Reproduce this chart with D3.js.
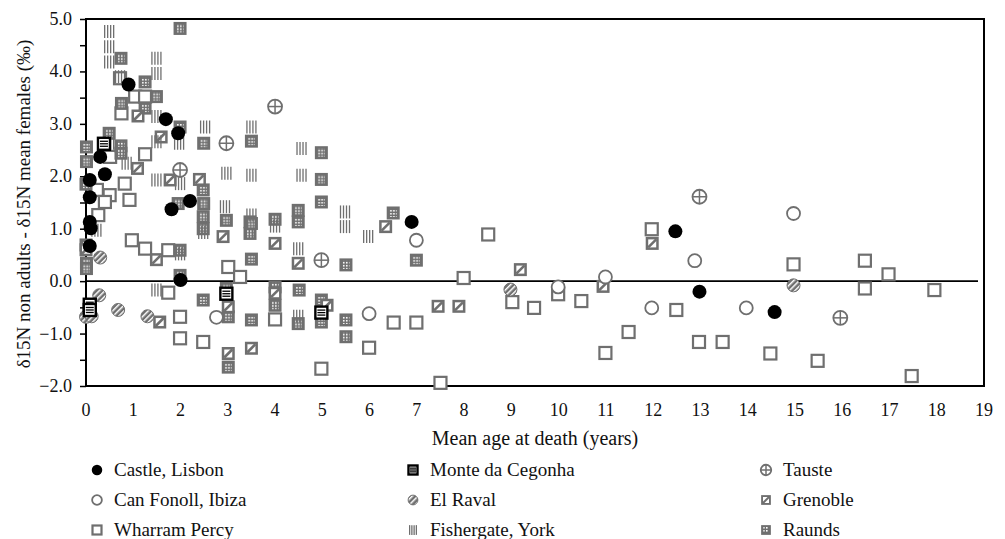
<!DOCTYPE html>
<html>
<head>
<meta charset="utf-8">
<script src="https://cdn.jsdelivr.net/npm/d3@7"></script>
<style>
  body { margin: 0; background: #fff; }
</style>
</head>
<body>
<div id="chart"></div>
<script>
// values: [mean age, delta]
const castleLisbon = [[0.08,0.67],[0.1,1.01],[0.08,1.13],[0.08,1.6],[0.08,1.93],[0.3,2.37],[0.4,2.04],
  [0.9,3.75],[1.69,3.09],[1.95,2.82],[1.81,1.37],[2.2,1.53],[2.0,0.02],[6.89,1.13],[12.47,0.95],[12.98,-0.2],[14.57,-0.59]];
const canFonoll = [[2.76,-0.69],[5.99,-0.62],[6.99,0.78],[9.99,-0.11],[10.99,0.08],[11.97,-0.51],[12.88,0.39],[13.97,-0.51],[14.97,1.29]];
const wharramPercy = [[0.72,3.87],[1.04,3.52],[1.25,3.52],[0.75,3.2],[0.51,2.37],[1.25,2.42],[0.82,1.86],[0.23,1.74],
  [0.5,1.64],[0.92,1.55],[0.4,1.51],[0.26,1.26],[0.97,0.78],[1.25,0.62],[1.74,0.59],[3.01,0.27],[3.26,0.08],[1.74,-0.22],
  [1.99,-0.68],[1.99,-1.09],[2.48,-1.16],[4.0,-0.73],[6.51,-0.79],[6.99,-0.79],[5.99,-1.27],[4.98,-1.67],[7.5,-1.94],
  [8.51,0.89],[7.99,0.06],[9.02,-0.4],[9.48,-0.51],[9.99,-0.25],[10.48,-0.38],[11.48,-0.97],[10.99,-1.37],[11.97,0.99],
  [12.97,-1.16],[13.47,-1.16],[12.49,-0.55],[14.48,-1.38],[15.48,-1.52],[14.97,0.32],[16.48,0.39],[16.48,-0.14],
  [16.98,0.13],[17.95,-0.17],[17.47,-1.81]];
const monteCegonha = [[0.08,-0.45],[0.08,-0.55],[0.38,2.62],[2.97,-0.24],[4.98,-0.6]];
const elRaval = [[0.3,0.45],[0.28,-0.27],[0.0,-0.68],[0.12,-0.67],[0.68,-0.55],[1.3,-0.67],[8.98,-0.16],[14.97,-0.08]];
const fishergate = [[0.49,4.76],[0.49,4.47],[0.49,4.18],[1.49,4.25],[1.49,3.96],[0.72,3.9],[1.49,3.14],[1.49,2.66],
  [1.97,2.63],[2.52,2.94],[3.5,2.94],[0.49,2.63],[0.86,2.25],[1.49,1.93],[2.97,2.06],[3.5,2.02],[1.99,1.86],[4.56,2.53],
  [4.56,2.02],[2.94,1.42],[3.5,1.26],[4.0,1.05],[4.49,0.62],[5.48,1.32],[5.48,1.04],[5.97,0.85],[0.22,0.97],[1.99,0.52],
  [2.48,0.93],[1.49,-0.17],[4.49,-0.67]];
const tauste = [[1.99,2.12],[2.97,2.63],[4.0,3.33],[4.98,0.4],[12.98,1.61],[15.96,-0.7]];
const grenoble = [[1.1,3.15],[1.59,2.75],[1.09,2.15],[1.78,1.93],[2.4,1.94],[1.49,0.41],[2.9,0.85],[1.56,-0.78],
  [3.01,-0.49],[3.01,-1.38],[3.5,-1.28],[4.0,0.72],[4.49,0.34],[6.34,1.04],[4.0,-0.23],[5.1,-0.46],[7.45,-0.48],
  [7.89,-0.48],[9.19,0.22],[10.94,-0.1],[11.98,0.72],[0.0,0.6]];
const raunds = [[0.74,4.25],[1.99,4.82],[1.25,3.8],[1.49,3.52],[0.75,3.39],[1.25,3.3],[1.99,2.94],[2.49,2.63],[3.5,2.67],
  [0.49,2.82],[0.01,2.56],[0.01,2.28],[0.74,2.58],[0.74,2.44],[2.48,1.74],[1.95,1.48],[2.49,1.48],[0.0,1.85],[2.48,1.23],
  [2.48,1.0],[1.99,0.59],[0.0,0.69],[0.01,0.34],[0.01,0.24],[2.97,1.16],[3.47,1.13],[3.47,0.91],[3.5,0.42],[1.99,0.11],
  [2.48,-0.36],[2.97,-0.14],[3.01,-0.68],[3.01,-1.64],[3.5,-0.74],[4.98,2.45],[4.98,1.94],[4.98,1.51],[3.5,1.1],
  [4.0,1.18],[4.49,1.35],[4.49,1.13],[5.5,0.31],[6.5,1.3],[6.99,0.4],[4.0,-0.11],[4.0,-0.46],[4.51,-0.17],[4.49,-0.81],
  [4.98,-0.36],[4.98,-0.78],[5.5,-0.74],[5.5,-1.06]];

const seriesNames = ["Castle, Lisbon","Monte da Cegonha","Tauste","Can Fonoll, Ibiza","El Raval","Grenoble",
  "Wharram Percy","Fishergate, York","Raunds"];
const xTicks = d3.range(0, 20, 1);
const yTicks = d3.range(-2, 5.01, 1);

const width = 1005, height = 539;
const grey = "#6f6f6f";

const svg = d3.select("#chart").append("svg")
    .attr("width", width)
    .attr("height", height)
    .attr("font-family", "'Liberation Serif', 'DejaVu Serif', serif")
    .attr("fill", "#111");

const defs = svg.append("defs");
// white dot pattern for Raunds
const dots = defs.append("pattern").attr("id", "dots")
    .attr("patternUnits", "userSpaceOnUse").attr("width", 3).attr("height", 3);
dots.append("rect").attr("width", 3).attr("height", 3).attr("fill", grey);
dots.append("rect").attr("width", 1.6).attr("height", 1.6).attr("fill", "#fff");
// diagonal hatch for El Raval
const hatch = defs.append("pattern").attr("id", "hatch")
    .attr("patternUnits", "userSpaceOnUse").attr("width", 4).attr("height", 4)
    .attr("patternTransform", "rotate(45)");
hatch.append("rect").attr("width", 4).attr("height", 4).attr("fill", grey);
hatch.append("rect").attr("width", 1.5).attr("height", 4).attr("fill", "#fff");

const x = d3.scaleLinear().domain([0, 19]).range([86, 984]);
const y = d3.scaleLinear().domain([-2, 5]).range([386, 19]);

// draws one marker centred at 0,0 inside g
function drawMarker(g, name, s) {
    if (name === "Castle, Lisbon") {
        g.append("circle").attr("r", 7 * s).attr("fill", "#000");
    } else if (name === "Can Fonoll, Ibiza") {
        g.append("circle").attr("r", 6.5 * s).attr("fill", "#fff").attr("stroke", grey).attr("stroke-width", 1.8);
    } else if (name === "Wharram Percy") {
        g.append("rect").attr("x", -6 * s).attr("y", -6 * s).attr("width", 12 * s).attr("height", 12 * s)
            .attr("fill", "#fff").attr("stroke", grey).attr("stroke-width", 2.2);
    } else if (name === "Monte da Cegonha") {
        g.append("rect").attr("x", -6 * s).attr("y", -6 * s).attr("width", 12 * s).attr("height", 12 * s)
            .attr("fill", "#fff").attr("stroke", "#000").attr("stroke-width", 2.4);
        [-2.5, 0, 2.5].forEach(d => g.append("line")
            .attr("x1", -4 * s).attr("x2", 4 * s).attr("y1", d * s).attr("y2", d * s)
            .attr("stroke", "#000").attr("stroke-width", 1.3));
    } else if (name === "El Raval") {
        g.append("circle").attr("r", 6.5 * s).attr("fill", "url(#hatch)").attr("stroke", grey).attr("stroke-width", 1);
    } else if (name === "Fishergate, York") {
        [-4.5, -1.5, 1.5, 4.5].forEach(d => g.append("line")
            .attr("x1", d * s).attr("x2", d * s).attr("y1", -6.5 * s).attr("y2", 6.5 * s)
            .attr("stroke", grey).attr("stroke-width", 1.3));
    } else if (name === "Tauste") {
        g.append("circle").attr("r", 7 * s).attr("fill", "#fff").attr("stroke", grey).attr("stroke-width", 1.8);
        g.append("line").attr("x1", -7 * s).attr("x2", 7 * s).attr("stroke", grey).attr("stroke-width", 1.5);
        g.append("line").attr("y1", -7 * s).attr("y2", 7 * s).attr("stroke", grey).attr("stroke-width", 1.5);
    } else if (name === "Grenoble") {
        g.append("rect").attr("x", -6.5 * s).attr("y", -6.5 * s).attr("width", 13 * s).attr("height", 13 * s).attr("fill", grey);
        g.append("rect").attr("x", -4 * s).attr("y", -4 * s).attr("width", 8 * s).attr("height", 8 * s).attr("fill", "#fff");
        g.append("line").attr("x1", -4 * s).attr("y1", 4 * s).attr("x2", 4 * s).attr("y2", -4 * s)
            .attr("stroke", grey).attr("stroke-width", 2.6 * s);
    } else if (name === "Raunds") {
        g.append("rect").attr("x", -6.5 * s).attr("y", -6.5 * s).attr("width", 13 * s).attr("height", 13 * s).attr("fill", grey);
        g.append("rect").attr("x", -3.5 * s).attr("y", -4 * s).attr("width", 7 * s).attr("height", 8 * s).attr("fill", "url(#dots)");
    }
}

const plot = svg.append("g");

// frame
plot.append("rect")
    .attr("x", x(0)).attr("y", y(5))
    .attr("width", x(19) - x(0)).attr("height", y(-2) - y(5))
    .attr("fill", "none").attr("stroke", "#000").attr("stroke-width", 2);

// zero line
plot.append("line")
    .attr("x1", x(0)).attr("x2", x(19) - 6)
    .attr("y1", y(0)).attr("y2", y(0))
    .attr("stroke", "#000").attr("stroke-width", 1.6);

// Y axis with half-unit ticks
const yAxis = plot.append("g")
    .attr("transform", `translate(${x(0)},0)`)
    .call(d3.axisLeft(y).tickValues(d3.range(-2, 5.01, 0.5)).tickSize(6).tickFormat(""));
yAxis.select(".domain").remove();
yAxis.selectAll("line").attr("stroke", "#000").attr("stroke-width", 1.5);

plot.selectAll(".ylab")
    .data(yTicks)
    .enter().append("text")
    .attr("x", x(0) - 14)
    .attr("y", d => y(d) + 6)
    .attr("text-anchor", "end")
    .attr("font-size", 18)
    .text(d => d3.format(".1f")(d));

plot.selectAll(".xlab")
    .data(xTicks)
    .enter().append("text")
    .attr("x", d => x(d))
    .attr("y", 416)
    .attr("text-anchor", "middle")
    .attr("font-size", 18)
    .text(d => d);

// axis titles
svg.append("text")
    .attr("x", 535).attr("y", 445)
    .attr("text-anchor", "middle")
    .attr("font-size", 20)
    .text("Mean age at death (years)");

svg.append("text")
    .attr("transform", "translate(30,204) rotate(-90)")
    .attr("text-anchor", "middle")
    .attr("font-size", 19)
    .text("δ15N non adults - δ15N mean females (‰)");

// series, drawn so that black dots end on top
const drawOrder = [
    ["Wharram Percy", wharramPercy],
    ["Raunds", raunds],
    ["Grenoble", grenoble],
    ["Fishergate, York", fishergate],
    ["Tauste", tauste],
    ["El Raval", elRaval],
    ["Can Fonoll, Ibiza", canFonoll],
    ["Monte da Cegonha", monteCegonha],
    ["Castle, Lisbon", castleLisbon]
];

drawOrder.forEach(([name, pts]) => {
    plot.selectAll(null)
        .data(pts)
        .enter().append("g")
        .attr("transform", d => `translate(${x(d[0])},${y(d[1])})`)
        .each(function() { drawMarker(d3.select(this), name, 1); });
});

// legend, three columns
const legendCols = [97, 413, 766];
const legendRows = [470, 500, 530];
const legend = svg.append("g");
seriesNames.forEach((name, i) => {
    const cx = legendCols[i % 3], cy = legendRows[Math.floor(i / 3)];
    const g = legend.append("g").attr("transform", `translate(${cx},${cy})`);
    drawMarker(g, name, 0.75);
    legend.append("text")
        .attr("x", cx + 17).attr("y", cy + 6)
        .attr("font-size", 19)
        .text(name);
});
</script>
</body>
</html>
